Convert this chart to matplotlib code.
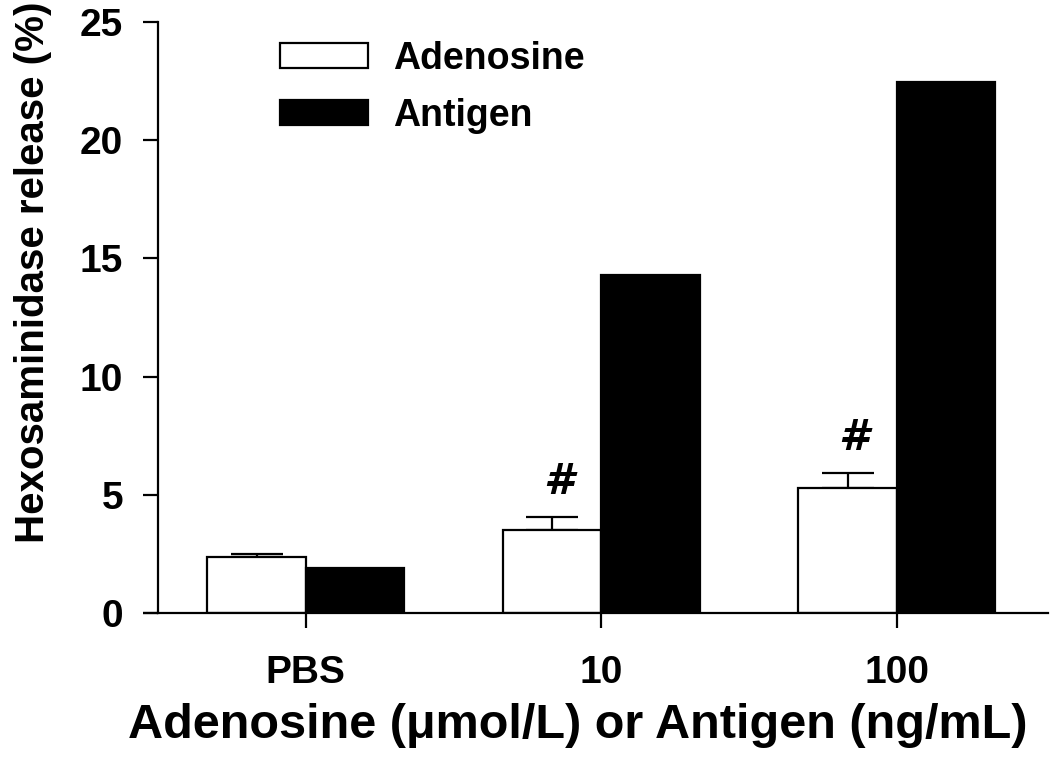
import matplotlib
matplotlib.use("Agg")
import matplotlib.pyplot as plt
import numpy as np

categories = ["PBS", "10", "100"]
adenosine = [2.37, 3.51, 5.29]
adenosine_err = [0.13, 0.55, 0.63]
antigen = [1.90, 14.30, 22.45]
marks = ["", "#", "#"]
yticks = [0, 5, 10, 15, 20, 25]

plt.rcParams['font.family'] = ['Liberation Sans', 'DejaVu Sans']
plt.rcParams['font.weight'] = 'bold'

W, H = 1050, 777
fig = plt.figure(figsize=(W / 100, H / 100), dpi=100)
ax = fig.add_axes([158 / W, (H - 613) / H, (1048 - 158) / W, (613 - 22) / H])

x = np.arange(len(categories))
bw = 1 / 3
lw = 1.6
ax.bar(x - bw / 2, adenosine, bw, color="white", edgecolor="black", linewidth=lw,
       label="Adenosine", zorder=2)
ax.errorbar(x - bw / 2, adenosine, yerr=[np.zeros(3), adenosine_err], fmt="none",
            ecolor="black", elinewidth=lw, capsize=18.5, capthick=lw, zorder=1)
ax.bar(x + bw / 2, antigen, bw, color="black", edgecolor="black", linewidth=lw,
       label="Antigen", zorder=2)

for xi, v, e, m in zip(x, adenosine, adenosine_err, marks):
    if m:
        ax.annotate(m, (xi - bw / 2 + 0.02, v + e), xytext=(0, 10), textcoords="offset points",
                    ha="center", va="bottom", fontsize=31, fontweight="bold",
                    fontstyle="italic", family=["DejaVu Sans"])

ax.set_xlim(-0.5, 2.511)
ax.set_ylim(0, 25)
ax.set_yticks(yticks)
ax.set_yticklabels([str(t) for t in yticks])
ax.set_xticks(x)
ax.set_xticklabels(categories)

for s in ["top", "right"]:
    ax.spines[s].set_visible(False)
ax.spines["left"].set_linewidth(lw)
ax.spines["bottom"].set_linewidth(lw)
ax.plot([-15 / 890, 0], [0, 0], transform=ax.transAxes, color="black", lw=lw,
        clip_on=False, solid_capstyle="butt")

ax.tick_params(axis="both", direction="out", length=11, width=lw, labelsize=28, pad=14)
ax.tick_params(axis="x", pad=19)

ax.set_xlabel("Adenosine (\u03bcmol/L) or Antigen (ng/mL)", fontsize=35, fontweight="bold")
ax.xaxis.set_label_coords((578 - 158) / 890, (613 - 703) / 591)
ax.set_ylabel("Hexosaminidase release (%)", fontsize=29, fontweight="bold")
ax.yaxis.set_label_coords((52 - 158) / 890, (613 - 272) / 591)

leg = ax.legend(loc="upper left", bbox_to_anchor=(280 / W, 1 - 41 / H),
                bbox_transform=fig.transFigure, frameon=False, fontsize=27,
                handlelength=2.35, handleheight=0.64, handletextpad=0.67,
                labelspacing=0.55, borderpad=0, borderaxespad=0)

fig.savefig("out.png", dpi=100)
